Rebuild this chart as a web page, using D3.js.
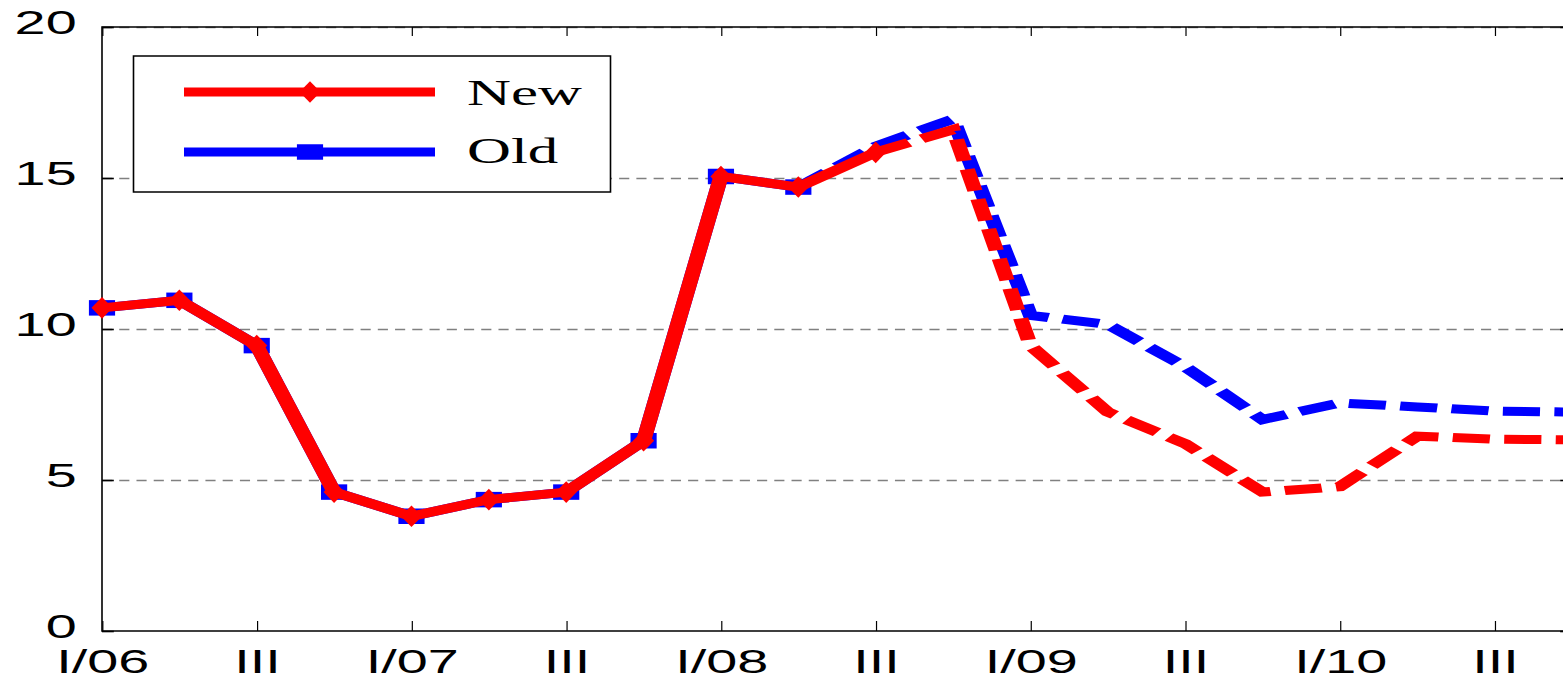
<!DOCTYPE html>
<html>
<head>
<meta charset="utf-8">
<script src="https://cdn.jsdelivr.net/npm/d3@7"></script>
<style>
  body { margin: 0; background: #fff; }
  svg { display: block; }
</style>
</head>
<body>
<div id="chart"></div>
<script>
// quarters I/06 .. IV/10
const quarters = d3.range(20);
const tickIdx = [0, 2, 4, 6, 8, 10, 12, 14, 16, 18];
const tickLabels = ['I/06', 'III', 'I/07', 'III', 'I/08', 'III', 'I/09', 'III', 'I/10', 'III'];
const yTicks = [0, 5, 10, 15, 20];
const gridTicks = [5, 10, 15, 20];

const newVals = [10.7, 10.95, 9.45, 4.6, 3.8, 4.35, 4.6, 6.3, 15.05, 14.7, 15.85, 16.6, 9.45, 7.25, 6.2, 4.6, 4.78, 6.45, 6.35, 6.33];
const oldVals = [10.7, 10.95, 9.45, 4.6, 3.8, 4.35, 4.6, 6.3, 15.05, 14.7, 16.05, 16.95, 10.45, 10.15, 8.75, 7.0, 7.55, 7.42, 7.28, 7.25];
// last actual quarter of each series, dashed afterwards
const newLastActual = 10;
const oldLastActual = 9;

const seriesNames = ['New', 'Old'];

const width = 1563;
const height = 680;
const stretch = 1.69; // the original picture is stretched horizontally

// screen positions of the plot box
const box = { left: 102, right: 1572, top: 27, bottom: 631 };

const svg = d3.select('#chart')
  .append('svg')
  .attr('width', width)
  .attr('height', height);

const g = svg.append('g').attr('transform', `scale(${stretch},1)`);

const xScale = d3.scaleLinear()
  .domain([0, 19])
  .range([box.left / stretch, box.right / stretch]);

const yScale = d3.scaleLinear()
  .domain([0, 20])
  .range([box.bottom, box.top]);

const innerW = (box.right - box.left) / stretch;

// gridlines
const grid = g.append('g')
  .attr('transform', `translate(${box.left / stretch},0)`)
  .call(d3.axisLeft(yScale).tickValues(gridTicks).tickFormat('').tickSize(-innerW));
grid.select('.domain').remove();
grid.selectAll('line')
  .attr('stroke', '#808080')
  .attr('stroke-width', 1.6)
  .attr('stroke-dasharray', '6,4.2');

// frame: top, left, bottom (right is off the picture)
const frame = g.append('g').attr('fill', 'none').attr('stroke', '#000');
frame.append('rect')
  .attr('x', box.left / stretch)
  .attr('y', box.top)
  .attr('width', innerW)
  .attr('height', box.bottom - box.top)
  .attr('vector-effect', 'non-scaling-stroke')
  .attr('stroke-width', 1.6);

// x axis bottom with labels
const xAxis = g.append('g')
  .attr('transform', `translate(0,${box.bottom})`)
  .call(d3.axisBottom(xScale)
    .tickValues(tickIdx)
    .tickFormat((d, i) => tickLabels[i])
    .tickSizeInner(-10)
    .tickSizeOuter(0)
    .tickPadding(19));
xAxis.select('.domain').remove();
xAxis.selectAll('line').attr('vector-effect', 'non-scaling-stroke').attr('stroke-width', 1.2);
xAxis.selectAll('text')
  .attr('font-family', '"Liberation Sans", Arial, sans-serif')
  .attr('font-size', 33)
  .attr('fill', '#000');

// x axis top (ticks only)
const xTop = g.append('g')
  .attr('transform', `translate(0,${box.top})`)
  .call(d3.axisTop(xScale).tickValues(tickIdx).tickFormat('').tickSizeInner(-9).tickSizeOuter(0));
xTop.select('.domain').remove();
xTop.selectAll('line').attr('vector-effect', 'non-scaling-stroke').attr('stroke-width', 1.2);

// y axis left
const yAxis = g.append('g')
  .attr('transform', `translate(${box.left / stretch},0)`)
  .call(d3.axisLeft(yScale)
    .tickValues(yTicks)
    .tickSizeInner(-7)
    .tickSizeOuter(0)
    .tickPadding(15));
yAxis.select('.domain').remove();
yAxis.selectAll('line').attr('stroke-width', 1.6);
yAxis.selectAll('text')
  .attr('font-family', '"Liberation Sans", Arial, sans-serif')
  .attr('font-size', 33)
  .attr('dy', '0.2em')
  .attr('fill', '#000');

// y axis right (ticks only)
const yRight = g.append('g')
  .attr('transform', `translate(${box.right / stretch},0)`)
  .call(d3.axisRight(yScale).tickValues(yTicks).tickFormat('').tickSizeInner(-7).tickSizeOuter(0));
yRight.select('.domain').remove();
yRight.selectAll('line').attr('stroke-width', 1.6);

// lines
const line = d3.line()
  .x((d) => xScale(d.i))
  .y((d) => yScale(d.v));

function drawSeries(vals, lastActual, color, symbolType, symbolSize) {
  const pts = quarters.map((i) => ({ i, v: vals[i] }));
  const layer = g.append('g');
  layer.append('path')
    .datum(pts.slice(0, lastActual + 1))
    .attr('d', line)
    .attr('fill', 'none')
    .attr('stroke', color)
    .attr('stroke-width', 9);
  layer.append('path')
    .datum(pts.slice(lastActual))
    .attr('d', line)
    .attr('fill', 'none')
    .attr('stroke', color)
    .attr('stroke-width', 9)
    .attr('stroke-dasharray', '22,8.5');
  layer.selectAll('path.mark')
    .data(pts.slice(0, lastActual + 1))
    .join('path')
    .attr('class', 'mark')
    .attr('d', d3.symbol().type(symbolType).size(symbolSize))
    .attr('transform', (d) => `translate(${xScale(d.i)},${yScale(d.v)})`)
    .attr('fill', color);
}

drawSeries(oldVals, oldLastActual, '#0000ff', d3.symbolSquare, 240);
drawSeries(newVals, newLastActual, '#ff0000', d3.symbolDiamond, 135);

// legend
const legend = g.append('g');
legend.append('rect')
  .attr('x', 133.5 / stretch)
  .attr('y', 56)
  .attr('width', (610.5 - 133.5) / stretch)
  .attr('height', 136)
  .attr('fill', '#fff')
  .attr('stroke', '#000')
  .attr('vector-effect', 'non-scaling-stroke')
  .attr('stroke-width', 1.6);

const legendItems = [
  { name: seriesNames[0], color: '#ff0000', type: d3.symbolDiamond, size: 135, y: 92, base: 105 },
  { name: seriesNames[1], color: '#0000ff', type: d3.symbolSquare, size: 240, y: 152, base: 163 }
];

legendItems.forEach((it) => {
  legend.append('line')
    .attr('x1', 184 / stretch).attr('x2', 435 / stretch)
    .attr('y1', it.y).attr('y2', it.y)
    .attr('stroke', it.color)
    .attr('stroke-width', 9);
  legend.append('path')
    .attr('d', d3.symbol().type(it.type).size(it.size))
    .attr('transform', `translate(${310 / stretch},${it.y})`)
    .attr('fill', it.color);
  legend.append('text')
    .attr('x', 467 / stretch)
    .attr('y', it.base)
    .attr('font-family', '"Liberation Serif", "Times New Roman", serif')
    .attr('font-size', 36)
    .attr('fill', '#000')
    .text(it.name);
});
</script>
</body>
</html>
